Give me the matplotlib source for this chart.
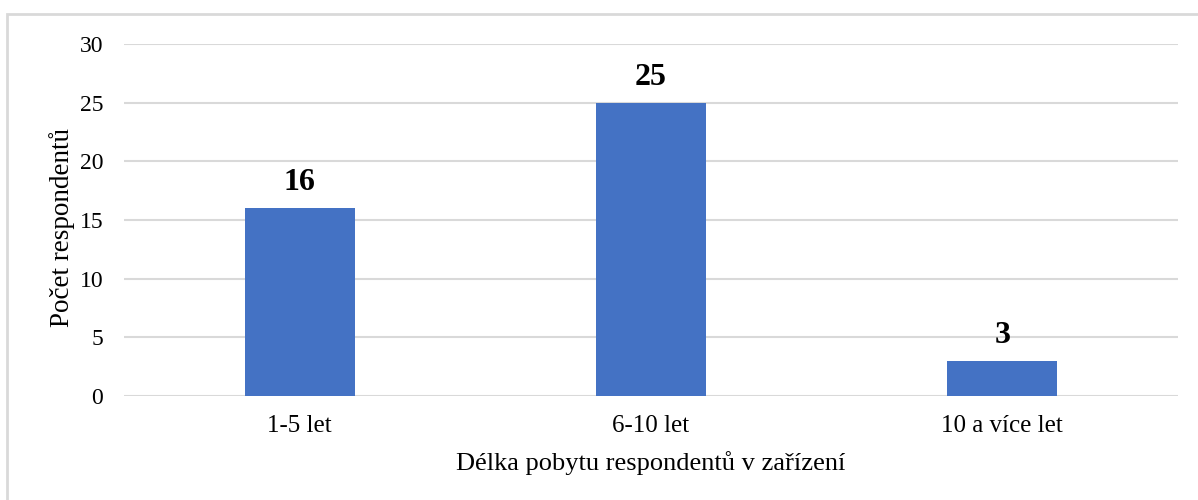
import matplotlib.pyplot as plt
from matplotlib.patches import Rectangle

categories = ['1-5 let', '6-10 let', '10 a více let']
counts = [16, 25, 3]
yticks = [0, 5, 10, 15, 20, 25, 30]

plt.rcParams['font.family'] = ['Liberation Serif', 'DejaVu Serif']

fig = plt.figure(figsize=(11.98, 5.0), dpi=100)
ax = fig.add_axes([124 / 1198, 1 - 396 / 500, 1054 / 1198, 352 / 500])

# light gray frame round the chart (right and bottom edges are cut off)
fig.patches.append(Rectangle((7 / 1198, -0.05), 1.2, 1 - 14 / 500 + 0.05,
                             transform=fig.transFigure, fill=False,
                             edgecolor='#d9d9d9', linewidth=2))

x = range(len(categories))
bars = ax.bar(x, counts, width=0.313, color='#4472C4', zorder=2)

for b, v in zip(bars, counts):
    ax.annotate(str(v), (b.get_x() + b.get_width() / 2, v),
                xytext=(0, 8), textcoords='offset points',
                ha='center', va='bottom', fontsize=23, fontweight='bold')

ax.set_xlim(-0.5, 2.5)
ax.set_ylim(0, 30)
ax.set_yticks(yticks)
ax.set_xticks(list(x))
ax.set_xticklabels(categories)
ax.tick_params(length=0)
ax.tick_params(axis='y', labelsize=17, pad=15)
ax.tick_params(axis='x', labelsize=18, pad=14)
ax.grid(True, axis='y', color='#d9d9d9', linewidth=1.5, zorder=0)
ax.set_axisbelow(True)
for spine in ax.spines.values():
    spine.set_visible(False)

ax.set_xlabel('Délka pobytu respondentů v zařízení', fontsize=19, labelpad=10)
ax.set_ylabel('Počet respondentů', fontsize=19.5, labelpad=3)
ax.yaxis.label.set_y(0.48)

fig.savefig('out.png', dpi=100)
